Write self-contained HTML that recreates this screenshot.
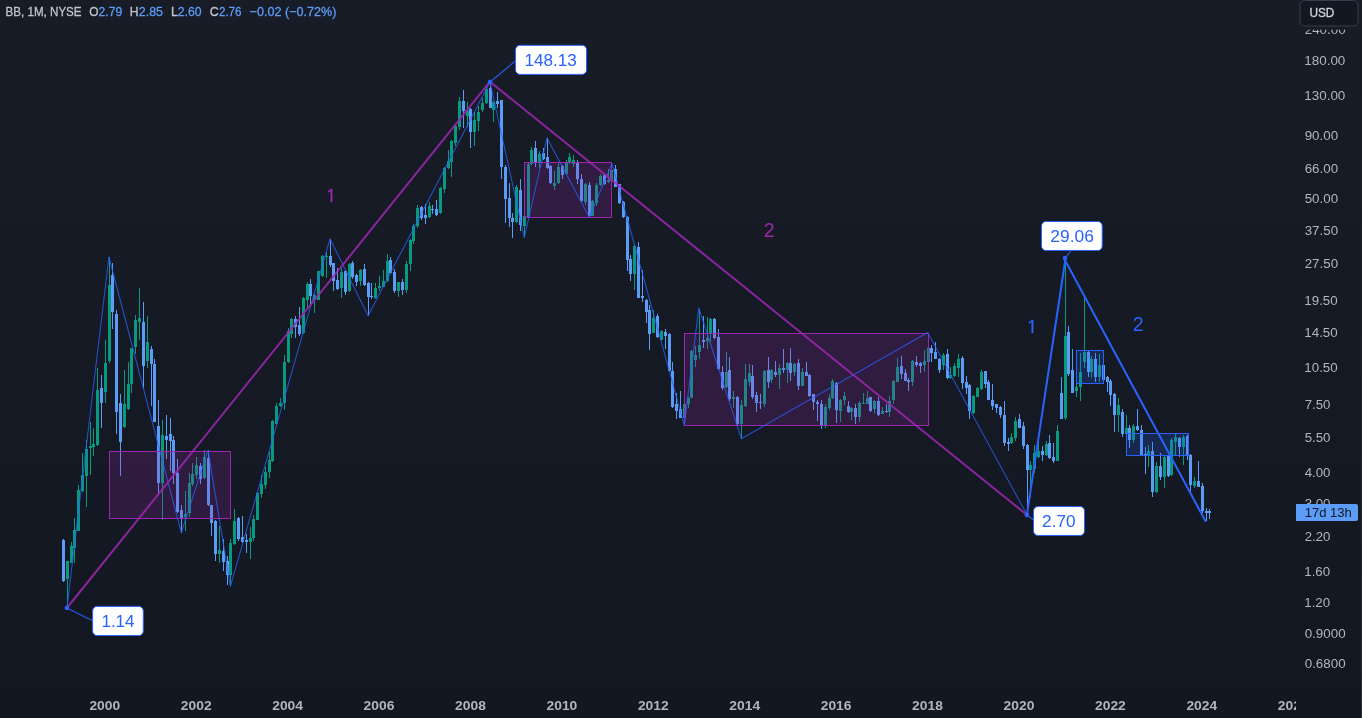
<!DOCTYPE html>
<html lang="en"><head><meta charset="utf-8"><title>BB 1M NYSE chart</title>
<style>
html,body{margin:0;padding:0;background:#131722;}
body{width:1362px;height:718px;overflow:hidden;position:relative;font-family:"Liberation Sans",sans-serif;}
#chart{position:absolute;left:0;top:0;width:1362px;height:718px;display:block}
text{font-family:"Liberation Sans",sans-serif}
.ax{font-size:12px;fill:#b2b5be}
.tx{font-size:12px;font-weight:bold;fill:#b2b5be}
.lg{font-size:13px;fill:#c1c4cd;stroke:#c1c4cd;stroke-width:0.3px}
.lv{font-size:13px;fill:#5b9cf6;stroke:#5b9cf6;stroke-width:0.3px}
.lb{font-size:16.6px;fill:#2962ff}
</style></head><body>
<svg id="chart" width="1362" height="718" viewBox="0 0 1362 718">
<defs><linearGradient id="bg" x1="0" y1="0" x2="0" y2="1"><stop offset="0" stop-color="#181c27"/><stop offset="1" stop-color="#131722"/></linearGradient><linearGradient id="edge" x1="0" y1="0" x2="0" y2="1"><stop offset="0" stop-color="#14171f"/><stop offset="1" stop-color="#2a2e39"/></linearGradient><clipPath id="tclip"><rect x="0" y="690" width="1296" height="28"/></clipPath></defs>
<rect x="0" y="0" width="1362" height="718" fill="url(#bg)"/>
<g shape-rendering="crispEdges">
<rect x="63" y="539" width="1" height="43" fill="#5b9cf6"/>
<rect x="62" y="540" width="3" height="41" fill="#5b9cf6"/>
<rect x="67" y="561" width="1" height="45" fill="#089981"/>
<rect x="66" y="561" width="3" height="18" fill="#089981"/>
<rect x="71" y="542" width="1" height="21" fill="#089981"/>
<rect x="70" y="546" width="3" height="17" fill="#089981"/>
<rect x="74" y="518" width="1" height="45" fill="#089981"/>
<rect x="73" y="530" width="3" height="18" fill="#089981"/>
<rect x="78" y="485" width="1" height="46" fill="#089981"/>
<rect x="77" y="490" width="3" height="41" fill="#089981"/>
<rect x="82" y="453" width="1" height="39" fill="#089981"/>
<rect x="81" y="475" width="3" height="16" fill="#089981"/>
<rect x="86" y="440" width="1" height="67" fill="#089981"/>
<rect x="85" y="449" width="3" height="27" fill="#089981"/>
<rect x="90" y="422" width="1" height="53" fill="#089981"/>
<rect x="89" y="446" width="3" height="2" fill="#089981"/>
<rect x="93" y="428" width="1" height="28" fill="#089981"/>
<rect x="92" y="444" width="3" height="3" fill="#089981"/>
<rect x="97" y="368" width="1" height="78" fill="#089981"/>
<rect x="96" y="390" width="3" height="55" fill="#089981"/>
<rect x="101" y="375" width="1" height="53" fill="#5b9cf6"/>
<rect x="100" y="388" width="3" height="15" fill="#5b9cf6"/>
<rect x="105" y="340" width="1" height="63" fill="#089981"/>
<rect x="104" y="363" width="3" height="29" fill="#089981"/>
<rect x="109" y="257" width="1" height="106" fill="#089981"/>
<rect x="108" y="285" width="3" height="76" fill="#089981"/>
<rect x="112" y="263" width="1" height="66" fill="#5b9cf6"/>
<rect x="111" y="275" width="3" height="37" fill="#5b9cf6"/>
<rect x="116" y="310" width="1" height="124" fill="#5b9cf6"/>
<rect x="115" y="314" width="3" height="98" fill="#5b9cf6"/>
<rect x="120" y="394" width="1" height="82" fill="#5b9cf6"/>
<rect x="119" y="403" width="3" height="39" fill="#5b9cf6"/>
<rect x="124" y="370" width="1" height="58" fill="#089981"/>
<rect x="123" y="404" width="3" height="23" fill="#089981"/>
<rect x="128" y="362" width="1" height="48" fill="#089981"/>
<rect x="127" y="384" width="3" height="25" fill="#089981"/>
<rect x="131" y="348" width="1" height="45" fill="#089981"/>
<rect x="130" y="348" width="3" height="36" fill="#089981"/>
<rect x="135" y="315" width="1" height="39" fill="#089981"/>
<rect x="134" y="320" width="3" height="27" fill="#089981"/>
<rect x="139" y="288" width="1" height="52" fill="#089981"/>
<rect x="138" y="318" width="3" height="4" fill="#089981"/>
<rect x="143" y="302" width="1" height="86" fill="#5b9cf6"/>
<rect x="142" y="322" width="3" height="44" fill="#5b9cf6"/>
<rect x="147" y="316" width="1" height="52" fill="#089981"/>
<rect x="146" y="342" width="3" height="19" fill="#089981"/>
<rect x="151" y="346" width="1" height="60" fill="#5b9cf6"/>
<rect x="150" y="349" width="3" height="15" fill="#5b9cf6"/>
<rect x="154" y="359" width="1" height="63" fill="#5b9cf6"/>
<rect x="153" y="364" width="3" height="58" fill="#5b9cf6"/>
<rect x="158" y="400" width="1" height="93" fill="#5b9cf6"/>
<rect x="157" y="426" width="3" height="57" fill="#5b9cf6"/>
<rect x="162" y="420" width="1" height="100" fill="#089981"/>
<rect x="161" y="435" width="3" height="48" fill="#089981"/>
<rect x="166" y="415" width="1" height="44" fill="#5b9cf6"/>
<rect x="165" y="436" width="3" height="4" fill="#5b9cf6"/>
<rect x="170" y="418" width="1" height="53" fill="#5b9cf6"/>
<rect x="169" y="434" width="3" height="7" fill="#5b9cf6"/>
<rect x="173" y="436" width="1" height="48" fill="#5b9cf6"/>
<rect x="172" y="440" width="3" height="33" fill="#5b9cf6"/>
<rect x="177" y="459" width="1" height="54" fill="#5b9cf6"/>
<rect x="176" y="473" width="3" height="39" fill="#5b9cf6"/>
<rect x="181" y="505" width="1" height="28" fill="#5b9cf6"/>
<rect x="180" y="510" width="3" height="8" fill="#5b9cf6"/>
<rect x="185" y="491" width="1" height="40" fill="#089981"/>
<rect x="184" y="514" width="3" height="3" fill="#089981"/>
<rect x="189" y="473" width="1" height="44" fill="#089981"/>
<rect x="188" y="483" width="3" height="30" fill="#089981"/>
<rect x="192" y="463" width="1" height="23" fill="#089981"/>
<rect x="191" y="474" width="3" height="10" fill="#089981"/>
<rect x="196" y="457" width="1" height="22" fill="#089981"/>
<rect x="195" y="465" width="3" height="10" fill="#089981"/>
<rect x="200" y="463" width="1" height="21" fill="#5b9cf6"/>
<rect x="199" y="466" width="3" height="13" fill="#5b9cf6"/>
<rect x="204" y="450" width="1" height="29" fill="#089981"/>
<rect x="203" y="457" width="3" height="21" fill="#089981"/>
<rect x="208" y="450" width="1" height="56" fill="#5b9cf6"/>
<rect x="207" y="458" width="3" height="47" fill="#5b9cf6"/>
<rect x="211" y="505" width="1" height="31" fill="#5b9cf6"/>
<rect x="210" y="505" width="3" height="18" fill="#5b9cf6"/>
<rect x="215" y="520" width="1" height="41" fill="#5b9cf6"/>
<rect x="214" y="521" width="3" height="33" fill="#5b9cf6"/>
<rect x="219" y="526" width="1" height="37" fill="#089981"/>
<rect x="218" y="550" width="3" height="4" fill="#089981"/>
<rect x="223" y="539" width="1" height="32" fill="#5b9cf6"/>
<rect x="222" y="551" width="3" height="11" fill="#5b9cf6"/>
<rect x="227" y="556" width="1" height="29" fill="#5b9cf6"/>
<rect x="226" y="561" width="3" height="14" fill="#5b9cf6"/>
<rect x="230" y="539" width="1" height="47" fill="#089981"/>
<rect x="229" y="543" width="3" height="32" fill="#089981"/>
<rect x="234" y="509" width="1" height="36" fill="#089981"/>
<rect x="233" y="521" width="3" height="23" fill="#089981"/>
<rect x="238" y="517" width="1" height="24" fill="#5b9cf6"/>
<rect x="237" y="518" width="3" height="21" fill="#5b9cf6"/>
<rect x="242" y="516" width="1" height="27" fill="#5b9cf6"/>
<rect x="241" y="537" width="3" height="5" fill="#5b9cf6"/>
<rect x="246" y="534" width="1" height="19" fill="#5b9cf6"/>
<rect x="245" y="540" width="3" height="2" fill="#5b9cf6"/>
<rect x="250" y="527" width="1" height="32" fill="#089981"/>
<rect x="249" y="538" width="3" height="4" fill="#089981"/>
<rect x="253" y="515" width="1" height="26" fill="#089981"/>
<rect x="252" y="519" width="3" height="19" fill="#089981"/>
<rect x="257" y="492" width="1" height="28" fill="#089981"/>
<rect x="256" y="493" width="3" height="27" fill="#089981"/>
<rect x="261" y="475" width="1" height="23" fill="#089981"/>
<rect x="260" y="484" width="3" height="10" fill="#089981"/>
<rect x="265" y="467" width="1" height="22" fill="#089981"/>
<rect x="264" y="472" width="3" height="13" fill="#089981"/>
<rect x="269" y="452" width="1" height="26" fill="#089981"/>
<rect x="268" y="460" width="3" height="12" fill="#089981"/>
<rect x="272" y="420" width="1" height="42" fill="#089981"/>
<rect x="271" y="421" width="3" height="40" fill="#089981"/>
<rect x="276" y="403" width="1" height="22" fill="#089981"/>
<rect x="275" y="406" width="3" height="18" fill="#089981"/>
<rect x="280" y="398" width="1" height="9" fill="#089981"/>
<rect x="279" y="403" width="3" height="3" fill="#089981"/>
<rect x="284" y="355" width="1" height="55" fill="#089981"/>
<rect x="283" y="362" width="3" height="41" fill="#089981"/>
<rect x="288" y="328" width="1" height="35" fill="#089981"/>
<rect x="287" y="331" width="3" height="31" fill="#089981"/>
<rect x="291" y="318" width="1" height="20" fill="#089981"/>
<rect x="290" y="319" width="3" height="15" fill="#089981"/>
<rect x="295" y="316" width="1" height="22" fill="#5b9cf6"/>
<rect x="294" y="319" width="3" height="8" fill="#5b9cf6"/>
<rect x="299" y="307" width="1" height="29" fill="#5b9cf6"/>
<rect x="298" y="325" width="3" height="9" fill="#5b9cf6"/>
<rect x="303" y="297" width="1" height="37" fill="#089981"/>
<rect x="302" y="298" width="3" height="35" fill="#089981"/>
<rect x="307" y="282" width="1" height="26" fill="#089981"/>
<rect x="306" y="284" width="3" height="16" fill="#089981"/>
<rect x="310" y="279" width="1" height="25" fill="#5b9cf6"/>
<rect x="309" y="284" width="3" height="12" fill="#5b9cf6"/>
<rect x="314" y="294" width="1" height="19" fill="#089981"/>
<rect x="313" y="295" width="3" height="5" fill="#089981"/>
<rect x="318" y="271" width="1" height="29" fill="#089981"/>
<rect x="317" y="271" width="3" height="29" fill="#089981"/>
<rect x="322" y="255" width="1" height="22" fill="#089981"/>
<rect x="321" y="256" width="3" height="20" fill="#089981"/>
<rect x="326" y="252" width="1" height="26" fill="#089981"/>
<rect x="325" y="256" width="3" height="1" fill="#089981"/>
<rect x="330" y="239" width="1" height="28" fill="#5b9cf6"/>
<rect x="329" y="256" width="3" height="9" fill="#5b9cf6"/>
<rect x="333" y="263" width="1" height="28" fill="#5b9cf6"/>
<rect x="332" y="263" width="3" height="18" fill="#5b9cf6"/>
<rect x="337" y="268" width="1" height="22" fill="#5b9cf6"/>
<rect x="336" y="280" width="3" height="9" fill="#5b9cf6"/>
<rect x="341" y="268" width="1" height="30" fill="#089981"/>
<rect x="340" y="272" width="3" height="16" fill="#089981"/>
<rect x="345" y="270" width="1" height="25" fill="#5b9cf6"/>
<rect x="344" y="271" width="3" height="21" fill="#5b9cf6"/>
<rect x="349" y="263" width="1" height="29" fill="#089981"/>
<rect x="348" y="264" width="3" height="27" fill="#089981"/>
<rect x="352" y="261" width="1" height="18" fill="#5b9cf6"/>
<rect x="351" y="263" width="3" height="14" fill="#5b9cf6"/>
<rect x="356" y="274" width="1" height="12" fill="#5b9cf6"/>
<rect x="355" y="275" width="3" height="7" fill="#5b9cf6"/>
<rect x="360" y="269" width="1" height="17" fill="#089981"/>
<rect x="359" y="270" width="3" height="11" fill="#089981"/>
<rect x="364" y="264" width="1" height="22" fill="#5b9cf6"/>
<rect x="363" y="269" width="3" height="16" fill="#5b9cf6"/>
<rect x="368" y="282" width="1" height="34" fill="#5b9cf6"/>
<rect x="367" y="283" width="3" height="14" fill="#5b9cf6"/>
<rect x="371" y="283" width="1" height="16" fill="#5b9cf6"/>
<rect x="370" y="296" width="3" height="1" fill="#5b9cf6"/>
<rect x="375" y="283" width="1" height="16" fill="#089981"/>
<rect x="374" y="288" width="3" height="10" fill="#089981"/>
<rect x="379" y="276" width="1" height="15" fill="#089981"/>
<rect x="378" y="286" width="3" height="2" fill="#089981"/>
<rect x="383" y="270" width="1" height="17" fill="#089981"/>
<rect x="382" y="281" width="3" height="6" fill="#089981"/>
<rect x="387" y="254" width="1" height="28" fill="#089981"/>
<rect x="386" y="261" width="3" height="20" fill="#089981"/>
<rect x="390" y="257" width="1" height="17" fill="#5b9cf6"/>
<rect x="389" y="260" width="3" height="13" fill="#5b9cf6"/>
<rect x="394" y="269" width="1" height="24" fill="#5b9cf6"/>
<rect x="393" y="272" width="3" height="19" fill="#5b9cf6"/>
<rect x="398" y="282" width="1" height="15" fill="#089981"/>
<rect x="397" y="282" width="3" height="9" fill="#089981"/>
<rect x="402" y="279" width="1" height="16" fill="#5b9cf6"/>
<rect x="401" y="282" width="3" height="8" fill="#5b9cf6"/>
<rect x="406" y="261" width="1" height="32" fill="#089981"/>
<rect x="405" y="264" width="3" height="26" fill="#089981"/>
<rect x="410" y="239" width="1" height="32" fill="#089981"/>
<rect x="409" y="240" width="3" height="24" fill="#089981"/>
<rect x="413" y="224" width="1" height="20" fill="#089981"/>
<rect x="412" y="226" width="3" height="15" fill="#089981"/>
<rect x="417" y="205" width="1" height="23" fill="#089981"/>
<rect x="416" y="208" width="3" height="18" fill="#089981"/>
<rect x="421" y="206" width="1" height="14" fill="#5b9cf6"/>
<rect x="420" y="207" width="3" height="11" fill="#5b9cf6"/>
<rect x="425" y="204" width="1" height="20" fill="#5b9cf6"/>
<rect x="424" y="215" width="3" height="3" fill="#5b9cf6"/>
<rect x="429" y="202" width="1" height="16" fill="#089981"/>
<rect x="428" y="206" width="3" height="11" fill="#089981"/>
<rect x="432" y="205" width="1" height="9" fill="#5b9cf6"/>
<rect x="431" y="209" width="3" height="1" fill="#5b9cf6"/>
<rect x="436" y="200" width="1" height="16" fill="#5b9cf6"/>
<rect x="435" y="209" width="3" height="6" fill="#5b9cf6"/>
<rect x="440" y="187" width="1" height="27" fill="#089981"/>
<rect x="439" y="188" width="3" height="25" fill="#089981"/>
<rect x="444" y="167" width="1" height="26" fill="#089981"/>
<rect x="443" y="168" width="3" height="21" fill="#089981"/>
<rect x="448" y="150" width="1" height="19" fill="#089981"/>
<rect x="447" y="161" width="3" height="7" fill="#089981"/>
<rect x="451" y="140" width="1" height="37" fill="#089981"/>
<rect x="450" y="141" width="3" height="21" fill="#089981"/>
<rect x="455" y="125" width="1" height="21" fill="#089981"/>
<rect x="454" y="126" width="3" height="17" fill="#089981"/>
<rect x="459" y="97" width="1" height="33" fill="#089981"/>
<rect x="458" y="101" width="3" height="26" fill="#089981"/>
<rect x="463" y="90" width="1" height="38" fill="#5b9cf6"/>
<rect x="462" y="101" width="3" height="10" fill="#5b9cf6"/>
<rect x="467" y="102" width="1" height="25" fill="#089981"/>
<rect x="466" y="111" width="3" height="5" fill="#089981"/>
<rect x="470" y="108" width="1" height="40" fill="#5b9cf6"/>
<rect x="469" y="109" width="3" height="23" fill="#5b9cf6"/>
<rect x="474" y="112" width="1" height="34" fill="#089981"/>
<rect x="473" y="120" width="3" height="12" fill="#089981"/>
<rect x="478" y="106" width="1" height="25" fill="#089981"/>
<rect x="477" y="112" width="3" height="9" fill="#089981"/>
<rect x="482" y="98" width="1" height="14" fill="#089981"/>
<rect x="481" y="103" width="3" height="7" fill="#089981"/>
<rect x="486" y="86" width="1" height="18" fill="#089981"/>
<rect x="485" y="89" width="3" height="14" fill="#089981"/>
<rect x="490" y="84" width="1" height="24" fill="#5b9cf6"/>
<rect x="489" y="88" width="3" height="20" fill="#5b9cf6"/>
<rect x="493" y="101" width="1" height="21" fill="#089981"/>
<rect x="492" y="102" width="3" height="8" fill="#089981"/>
<rect x="497" y="92" width="1" height="16" fill="#5b9cf6"/>
<rect x="496" y="101" width="3" height="3" fill="#5b9cf6"/>
<rect x="501" y="100" width="1" height="79" fill="#5b9cf6"/>
<rect x="500" y="100" width="3" height="67" fill="#5b9cf6"/>
<rect x="505" y="165" width="1" height="58" fill="#5b9cf6"/>
<rect x="504" y="167" width="3" height="32" fill="#5b9cf6"/>
<rect x="509" y="183" width="1" height="44" fill="#5b9cf6"/>
<rect x="508" y="198" width="3" height="20" fill="#5b9cf6"/>
<rect x="512" y="213" width="1" height="25" fill="#5b9cf6"/>
<rect x="511" y="218" width="3" height="4" fill="#5b9cf6"/>
<rect x="516" y="185" width="1" height="38" fill="#089981"/>
<rect x="515" y="187" width="3" height="35" fill="#089981"/>
<rect x="520" y="179" width="1" height="52" fill="#5b9cf6"/>
<rect x="519" y="190" width="3" height="35" fill="#5b9cf6"/>
<rect x="524" y="216" width="1" height="22" fill="#089981"/>
<rect x="523" y="216" width="3" height="10" fill="#089981"/>
<rect x="528" y="163" width="1" height="55" fill="#089981"/>
<rect x="527" y="164" width="3" height="53" fill="#089981"/>
<rect x="531" y="147" width="1" height="18" fill="#089981"/>
<rect x="530" y="150" width="3" height="14" fill="#089981"/>
<rect x="535" y="141" width="1" height="26" fill="#5b9cf6"/>
<rect x="534" y="148" width="3" height="14" fill="#5b9cf6"/>
<rect x="539" y="151" width="1" height="17" fill="#089981"/>
<rect x="538" y="154" width="3" height="8" fill="#089981"/>
<rect x="543" y="148" width="1" height="12" fill="#5b9cf6"/>
<rect x="542" y="153" width="3" height="6" fill="#5b9cf6"/>
<rect x="547" y="138" width="1" height="31" fill="#5b9cf6"/>
<rect x="546" y="157" width="3" height="11" fill="#5b9cf6"/>
<rect x="550" y="165" width="1" height="19" fill="#5b9cf6"/>
<rect x="549" y="166" width="3" height="17" fill="#5b9cf6"/>
<rect x="554" y="171" width="1" height="19" fill="#089981"/>
<rect x="553" y="183" width="3" height="3" fill="#089981"/>
<rect x="558" y="162" width="1" height="22" fill="#089981"/>
<rect x="557" y="167" width="3" height="16" fill="#089981"/>
<rect x="562" y="165" width="1" height="14" fill="#5b9cf6"/>
<rect x="561" y="166" width="3" height="9" fill="#5b9cf6"/>
<rect x="566" y="160" width="1" height="14" fill="#089981"/>
<rect x="565" y="163" width="3" height="11" fill="#089981"/>
<rect x="569" y="153" width="1" height="11" fill="#089981"/>
<rect x="568" y="157" width="3" height="5" fill="#089981"/>
<rect x="573" y="155" width="1" height="12" fill="#089981"/>
<rect x="572" y="160" width="3" height="4" fill="#089981"/>
<rect x="577" y="160" width="1" height="24" fill="#5b9cf6"/>
<rect x="576" y="163" width="3" height="16" fill="#5b9cf6"/>
<rect x="581" y="174" width="1" height="28" fill="#5b9cf6"/>
<rect x="580" y="179" width="3" height="22" fill="#5b9cf6"/>
<rect x="585" y="183" width="1" height="22" fill="#089981"/>
<rect x="584" y="184" width="3" height="18" fill="#089981"/>
<rect x="589" y="182" width="1" height="35" fill="#5b9cf6"/>
<rect x="588" y="185" width="3" height="31" fill="#5b9cf6"/>
<rect x="592" y="200" width="1" height="16" fill="#089981"/>
<rect x="591" y="201" width="3" height="15" fill="#089981"/>
<rect x="596" y="183" width="1" height="23" fill="#089981"/>
<rect x="595" y="185" width="3" height="18" fill="#089981"/>
<rect x="600" y="174" width="1" height="12" fill="#089981"/>
<rect x="599" y="176" width="3" height="9" fill="#089981"/>
<rect x="604" y="174" width="1" height="11" fill="#5b9cf6"/>
<rect x="603" y="175" width="3" height="9" fill="#5b9cf6"/>
<rect x="608" y="169" width="1" height="14" fill="#089981"/>
<rect x="607" y="180" width="3" height="2" fill="#089981"/>
<rect x="611" y="164" width="1" height="18" fill="#089981"/>
<rect x="610" y="170" width="3" height="11" fill="#089981"/>
<rect x="615" y="165" width="1" height="22" fill="#5b9cf6"/>
<rect x="614" y="169" width="3" height="18" fill="#5b9cf6"/>
<rect x="619" y="184" width="1" height="20" fill="#5b9cf6"/>
<rect x="618" y="184" width="3" height="19" fill="#5b9cf6"/>
<rect x="623" y="201" width="1" height="17" fill="#5b9cf6"/>
<rect x="622" y="202" width="3" height="15" fill="#5b9cf6"/>
<rect x="627" y="216" width="1" height="55" fill="#5b9cf6"/>
<rect x="626" y="217" width="3" height="43" fill="#5b9cf6"/>
<rect x="630" y="255" width="1" height="26" fill="#5b9cf6"/>
<rect x="629" y="259" width="3" height="15" fill="#5b9cf6"/>
<rect x="634" y="245" width="1" height="45" fill="#089981"/>
<rect x="633" y="246" width="3" height="28" fill="#089981"/>
<rect x="638" y="242" width="1" height="56" fill="#5b9cf6"/>
<rect x="637" y="247" width="3" height="51" fill="#5b9cf6"/>
<rect x="642" y="270" width="1" height="32" fill="#5b9cf6"/>
<rect x="641" y="296" width="3" height="2" fill="#5b9cf6"/>
<rect x="646" y="299" width="1" height="24" fill="#5b9cf6"/>
<rect x="645" y="300" width="3" height="12" fill="#5b9cf6"/>
<rect x="649" y="305" width="1" height="45" fill="#5b9cf6"/>
<rect x="648" y="310" width="3" height="24" fill="#5b9cf6"/>
<rect x="653" y="310" width="1" height="23" fill="#089981"/>
<rect x="652" y="318" width="3" height="15" fill="#089981"/>
<rect x="657" y="314" width="1" height="24" fill="#5b9cf6"/>
<rect x="656" y="316" width="3" height="21" fill="#5b9cf6"/>
<rect x="661" y="330" width="1" height="10" fill="#089981"/>
<rect x="660" y="331" width="3" height="9" fill="#089981"/>
<rect x="665" y="329" width="1" height="20" fill="#5b9cf6"/>
<rect x="664" y="332" width="3" height="4" fill="#5b9cf6"/>
<rect x="669" y="333" width="1" height="38" fill="#5b9cf6"/>
<rect x="668" y="334" width="3" height="37" fill="#5b9cf6"/>
<rect x="672" y="362" width="1" height="46" fill="#5b9cf6"/>
<rect x="671" y="371" width="3" height="36" fill="#5b9cf6"/>
<rect x="676" y="393" width="1" height="26" fill="#5b9cf6"/>
<rect x="675" y="404" width="3" height="7" fill="#5b9cf6"/>
<rect x="680" y="391" width="1" height="27" fill="#5b9cf6"/>
<rect x="679" y="409" width="3" height="9" fill="#5b9cf6"/>
<rect x="684" y="403" width="1" height="15" fill="#089981"/>
<rect x="683" y="404" width="3" height="14" fill="#089981"/>
<rect x="688" y="397" width="1" height="11" fill="#089981"/>
<rect x="687" y="398" width="3" height="6" fill="#089981"/>
<rect x="691" y="350" width="1" height="48" fill="#089981"/>
<rect x="690" y="351" width="3" height="47" fill="#089981"/>
<rect x="695" y="346" width="1" height="21" fill="#089981"/>
<rect x="694" y="355" width="3" height="5" fill="#089981"/>
<rect x="699" y="309" width="1" height="50" fill="#089981"/>
<rect x="698" y="345" width="3" height="7" fill="#089981"/>
<rect x="703" y="316" width="1" height="32" fill="#5b9cf6"/>
<rect x="702" y="340" width="3" height="2" fill="#5b9cf6"/>
<rect x="707" y="317" width="1" height="32" fill="#089981"/>
<rect x="706" y="338" width="3" height="3" fill="#089981"/>
<rect x="710" y="318" width="1" height="24" fill="#089981"/>
<rect x="709" y="319" width="3" height="14" fill="#089981"/>
<rect x="714" y="318" width="1" height="21" fill="#5b9cf6"/>
<rect x="713" y="319" width="3" height="19" fill="#5b9cf6"/>
<rect x="718" y="329" width="1" height="41" fill="#5b9cf6"/>
<rect x="717" y="337" width="3" height="32" fill="#5b9cf6"/>
<rect x="722" y="366" width="1" height="24" fill="#5b9cf6"/>
<rect x="721" y="372" width="3" height="16" fill="#5b9cf6"/>
<rect x="726" y="352" width="1" height="36" fill="#089981"/>
<rect x="725" y="372" width="3" height="15" fill="#089981"/>
<rect x="729" y="357" width="1" height="44" fill="#5b9cf6"/>
<rect x="728" y="370" width="3" height="29" fill="#5b9cf6"/>
<rect x="733" y="391" width="1" height="17" fill="#089981"/>
<rect x="732" y="397" width="3" height="2" fill="#089981"/>
<rect x="737" y="396" width="1" height="29" fill="#5b9cf6"/>
<rect x="736" y="397" width="3" height="27" fill="#5b9cf6"/>
<rect x="741" y="400" width="1" height="39" fill="#089981"/>
<rect x="740" y="405" width="3" height="19" fill="#089981"/>
<rect x="745" y="364" width="1" height="43" fill="#089981"/>
<rect x="744" y="379" width="3" height="27" fill="#089981"/>
<rect x="749" y="364" width="1" height="22" fill="#089981"/>
<rect x="748" y="373" width="3" height="9" fill="#089981"/>
<rect x="752" y="365" width="1" height="34" fill="#5b9cf6"/>
<rect x="751" y="376" width="3" height="21" fill="#5b9cf6"/>
<rect x="756" y="392" width="1" height="20" fill="#5b9cf6"/>
<rect x="755" y="395" width="3" height="8" fill="#5b9cf6"/>
<rect x="760" y="394" width="1" height="15" fill="#5b9cf6"/>
<rect x="759" y="402" width="3" height="1" fill="#5b9cf6"/>
<rect x="764" y="370" width="1" height="37" fill="#089981"/>
<rect x="763" y="371" width="3" height="33" fill="#089981"/>
<rect x="768" y="357" width="1" height="31" fill="#5b9cf6"/>
<rect x="767" y="370" width="3" height="12" fill="#5b9cf6"/>
<rect x="771" y="369" width="1" height="14" fill="#089981"/>
<rect x="770" y="370" width="3" height="10" fill="#089981"/>
<rect x="775" y="361" width="1" height="16" fill="#5b9cf6"/>
<rect x="774" y="372" width="3" height="3" fill="#5b9cf6"/>
<rect x="779" y="364" width="1" height="25" fill="#089981"/>
<rect x="778" y="368" width="3" height="7" fill="#089981"/>
<rect x="783" y="349" width="1" height="24" fill="#5b9cf6"/>
<rect x="782" y="368" width="3" height="2" fill="#5b9cf6"/>
<rect x="787" y="362" width="1" height="21" fill="#089981"/>
<rect x="786" y="363" width="3" height="7" fill="#089981"/>
<rect x="790" y="348" width="1" height="33" fill="#5b9cf6"/>
<rect x="789" y="363" width="3" height="10" fill="#5b9cf6"/>
<rect x="794" y="363" width="1" height="13" fill="#089981"/>
<rect x="793" y="364" width="3" height="8" fill="#089981"/>
<rect x="798" y="359" width="1" height="31" fill="#5b9cf6"/>
<rect x="797" y="363" width="3" height="23" fill="#5b9cf6"/>
<rect x="802" y="368" width="1" height="18" fill="#089981"/>
<rect x="801" y="372" width="3" height="14" fill="#089981"/>
<rect x="806" y="362" width="1" height="14" fill="#5b9cf6"/>
<rect x="805" y="372" width="3" height="4" fill="#5b9cf6"/>
<rect x="809" y="374" width="1" height="23" fill="#5b9cf6"/>
<rect x="808" y="375" width="3" height="21" fill="#5b9cf6"/>
<rect x="813" y="394" width="1" height="16" fill="#5b9cf6"/>
<rect x="812" y="394" width="3" height="8" fill="#5b9cf6"/>
<rect x="817" y="400" width="1" height="21" fill="#5b9cf6"/>
<rect x="816" y="402" width="3" height="2" fill="#5b9cf6"/>
<rect x="821" y="400" width="1" height="29" fill="#5b9cf6"/>
<rect x="820" y="404" width="3" height="21" fill="#5b9cf6"/>
<rect x="825" y="404" width="1" height="24" fill="#089981"/>
<rect x="824" y="407" width="3" height="18" fill="#089981"/>
<rect x="829" y="394" width="1" height="16" fill="#089981"/>
<rect x="828" y="398" width="3" height="10" fill="#089981"/>
<rect x="832" y="379" width="1" height="20" fill="#089981"/>
<rect x="831" y="381" width="3" height="17" fill="#089981"/>
<rect x="836" y="382" width="1" height="41" fill="#5b9cf6"/>
<rect x="835" y="383" width="3" height="27" fill="#5b9cf6"/>
<rect x="840" y="399" width="1" height="23" fill="#089981"/>
<rect x="839" y="400" width="3" height="11" fill="#089981"/>
<rect x="844" y="392" width="1" height="13" fill="#089981"/>
<rect x="843" y="396" width="3" height="4" fill="#089981"/>
<rect x="848" y="401" width="1" height="12" fill="#5b9cf6"/>
<rect x="847" y="406" width="3" height="6" fill="#5b9cf6"/>
<rect x="851" y="407" width="1" height="13" fill="#089981"/>
<rect x="850" y="408" width="3" height="4" fill="#089981"/>
<rect x="855" y="404" width="1" height="20" fill="#5b9cf6"/>
<rect x="854" y="408" width="3" height="9" fill="#5b9cf6"/>
<rect x="859" y="401" width="1" height="21" fill="#089981"/>
<rect x="858" y="403" width="3" height="14" fill="#089981"/>
<rect x="863" y="393" width="1" height="11" fill="#089981"/>
<rect x="862" y="403" width="3" height="1" fill="#089981"/>
<rect x="867" y="391" width="1" height="13" fill="#089981"/>
<rect x="866" y="398" width="3" height="6" fill="#089981"/>
<rect x="870" y="397" width="1" height="15" fill="#5b9cf6"/>
<rect x="869" y="397" width="3" height="14" fill="#5b9cf6"/>
<rect x="874" y="400" width="1" height="13" fill="#089981"/>
<rect x="873" y="401" width="3" height="8" fill="#089981"/>
<rect x="878" y="397" width="1" height="19" fill="#5b9cf6"/>
<rect x="877" y="401" width="3" height="14" fill="#5b9cf6"/>
<rect x="882" y="407" width="1" height="7" fill="#089981"/>
<rect x="881" y="411" width="3" height="3" fill="#089981"/>
<rect x="886" y="404" width="1" height="9" fill="#5b9cf6"/>
<rect x="885" y="411" width="3" height="1" fill="#5b9cf6"/>
<rect x="889" y="396" width="1" height="21" fill="#089981"/>
<rect x="888" y="401" width="3" height="11" fill="#089981"/>
<rect x="893" y="380" width="1" height="24" fill="#089981"/>
<rect x="892" y="381" width="3" height="19" fill="#089981"/>
<rect x="897" y="358" width="1" height="24" fill="#089981"/>
<rect x="896" y="367" width="3" height="15" fill="#089981"/>
<rect x="901" y="356" width="1" height="23" fill="#5b9cf6"/>
<rect x="900" y="366" width="3" height="8" fill="#5b9cf6"/>
<rect x="905" y="369" width="1" height="12" fill="#5b9cf6"/>
<rect x="904" y="373" width="3" height="8" fill="#5b9cf6"/>
<rect x="908" y="378" width="1" height="13" fill="#5b9cf6"/>
<rect x="907" y="380" width="3" height="2" fill="#5b9cf6"/>
<rect x="912" y="360" width="1" height="26" fill="#089981"/>
<rect x="911" y="361" width="3" height="21" fill="#089981"/>
<rect x="916" y="356" width="1" height="11" fill="#5b9cf6"/>
<rect x="915" y="362" width="3" height="3" fill="#5b9cf6"/>
<rect x="920" y="362" width="1" height="11" fill="#5b9cf6"/>
<rect x="919" y="363" width="3" height="3" fill="#5b9cf6"/>
<rect x="924" y="350" width="1" height="22" fill="#089981"/>
<rect x="923" y="361" width="3" height="4" fill="#089981"/>
<rect x="928" y="347" width="1" height="15" fill="#089981"/>
<rect x="927" y="348" width="3" height="14" fill="#089981"/>
<rect x="931" y="345" width="1" height="17" fill="#5b9cf6"/>
<rect x="930" y="348" width="3" height="5" fill="#5b9cf6"/>
<rect x="935" y="342" width="1" height="17" fill="#5b9cf6"/>
<rect x="934" y="352" width="3" height="7" fill="#5b9cf6"/>
<rect x="939" y="358" width="1" height="15" fill="#5b9cf6"/>
<rect x="938" y="359" width="3" height="11" fill="#5b9cf6"/>
<rect x="943" y="353" width="1" height="17" fill="#089981"/>
<rect x="942" y="355" width="3" height="10" fill="#089981"/>
<rect x="947" y="349" width="1" height="30" fill="#5b9cf6"/>
<rect x="946" y="354" width="3" height="24" fill="#5b9cf6"/>
<rect x="950" y="367" width="1" height="12" fill="#089981"/>
<rect x="949" y="375" width="3" height="3" fill="#089981"/>
<rect x="954" y="363" width="1" height="14" fill="#089981"/>
<rect x="953" y="366" width="3" height="10" fill="#089981"/>
<rect x="958" y="354" width="1" height="23" fill="#089981"/>
<rect x="957" y="359" width="3" height="9" fill="#089981"/>
<rect x="962" y="356" width="1" height="33" fill="#5b9cf6"/>
<rect x="961" y="358" width="3" height="25" fill="#5b9cf6"/>
<rect x="966" y="376" width="1" height="18" fill="#5b9cf6"/>
<rect x="965" y="382" width="3" height="6" fill="#5b9cf6"/>
<rect x="969" y="384" width="1" height="35" fill="#5b9cf6"/>
<rect x="968" y="385" width="3" height="26" fill="#5b9cf6"/>
<rect x="973" y="395" width="1" height="19" fill="#089981"/>
<rect x="972" y="396" width="3" height="17" fill="#089981"/>
<rect x="977" y="387" width="1" height="10" fill="#089981"/>
<rect x="976" y="388" width="3" height="9" fill="#089981"/>
<rect x="981" y="370" width="1" height="20" fill="#089981"/>
<rect x="980" y="372" width="3" height="17" fill="#089981"/>
<rect x="985" y="371" width="1" height="17" fill="#5b9cf6"/>
<rect x="984" y="371" width="3" height="13" fill="#5b9cf6"/>
<rect x="988" y="380" width="1" height="20" fill="#5b9cf6"/>
<rect x="987" y="382" width="3" height="18" fill="#5b9cf6"/>
<rect x="992" y="384" width="1" height="26" fill="#5b9cf6"/>
<rect x="991" y="400" width="3" height="6" fill="#5b9cf6"/>
<rect x="996" y="404" width="1" height="9" fill="#5b9cf6"/>
<rect x="995" y="404" width="3" height="4" fill="#5b9cf6"/>
<rect x="1000" y="406" width="1" height="12" fill="#5b9cf6"/>
<rect x="999" y="407" width="3" height="8" fill="#5b9cf6"/>
<rect x="1004" y="401" width="1" height="45" fill="#5b9cf6"/>
<rect x="1003" y="415" width="3" height="28" fill="#5b9cf6"/>
<rect x="1008" y="438" width="1" height="13" fill="#5b9cf6"/>
<rect x="1007" y="442" width="3" height="2" fill="#5b9cf6"/>
<rect x="1011" y="433" width="1" height="11" fill="#089981"/>
<rect x="1010" y="437" width="3" height="6" fill="#089981"/>
<rect x="1015" y="417" width="1" height="24" fill="#089981"/>
<rect x="1014" y="421" width="3" height="17" fill="#089981"/>
<rect x="1019" y="414" width="1" height="14" fill="#5b9cf6"/>
<rect x="1018" y="419" width="3" height="9" fill="#5b9cf6"/>
<rect x="1023" y="422" width="1" height="27" fill="#5b9cf6"/>
<rect x="1022" y="426" width="3" height="20" fill="#5b9cf6"/>
<rect x="1027" y="444" width="1" height="68" fill="#5b9cf6"/>
<rect x="1026" y="445" width="3" height="25" fill="#5b9cf6"/>
<rect x="1030" y="461" width="1" height="36" fill="#089981"/>
<rect x="1029" y="465" width="3" height="5" fill="#089981"/>
<rect x="1034" y="445" width="1" height="28" fill="#089981"/>
<rect x="1033" y="453" width="3" height="16" fill="#089981"/>
<rect x="1038" y="440" width="1" height="18" fill="#089981"/>
<rect x="1037" y="451" width="3" height="6" fill="#089981"/>
<rect x="1042" y="446" width="1" height="15" fill="#5b9cf6"/>
<rect x="1041" y="451" width="3" height="4" fill="#5b9cf6"/>
<rect x="1046" y="441" width="1" height="15" fill="#089981"/>
<rect x="1045" y="444" width="3" height="11" fill="#089981"/>
<rect x="1049" y="435" width="1" height="24" fill="#5b9cf6"/>
<rect x="1048" y="443" width="3" height="15" fill="#5b9cf6"/>
<rect x="1053" y="443" width="1" height="20" fill="#5b9cf6"/>
<rect x="1052" y="457" width="3" height="4" fill="#5b9cf6"/>
<rect x="1057" y="425" width="1" height="36" fill="#089981"/>
<rect x="1056" y="431" width="3" height="30" fill="#089981"/>
<rect x="1061" y="377" width="1" height="42" fill="#5b9cf6"/>
<rect x="1060" y="393" width="3" height="26" fill="#5b9cf6"/>
<rect x="1065" y="258" width="1" height="162" fill="#089981"/>
<rect x="1064" y="336" width="3" height="82" fill="#089981"/>
<rect x="1068" y="326" width="1" height="50" fill="#5b9cf6"/>
<rect x="1067" y="332" width="3" height="42" fill="#5b9cf6"/>
<rect x="1072" y="349" width="1" height="44" fill="#5b9cf6"/>
<rect x="1071" y="370" width="3" height="23" fill="#5b9cf6"/>
<rect x="1076" y="382" width="1" height="15" fill="#089981"/>
<rect x="1075" y="387" width="3" height="4" fill="#089981"/>
<rect x="1080" y="353" width="1" height="48" fill="#089981"/>
<rect x="1079" y="372" width="3" height="15" fill="#089981"/>
<rect x="1084" y="297" width="1" height="71" fill="#089981"/>
<rect x="1083" y="352" width="3" height="10" fill="#089981"/>
<rect x="1088" y="351" width="1" height="26" fill="#5b9cf6"/>
<rect x="1087" y="352" width="3" height="20" fill="#5b9cf6"/>
<rect x="1091" y="356" width="1" height="22" fill="#089981"/>
<rect x="1090" y="359" width="3" height="13" fill="#089981"/>
<rect x="1095" y="353" width="1" height="29" fill="#5b9cf6"/>
<rect x="1094" y="359" width="3" height="18" fill="#5b9cf6"/>
<rect x="1099" y="354" width="1" height="28" fill="#089981"/>
<rect x="1098" y="365" width="3" height="12" fill="#089981"/>
<rect x="1103" y="364" width="1" height="16" fill="#5b9cf6"/>
<rect x="1102" y="365" width="3" height="15" fill="#5b9cf6"/>
<rect x="1107" y="376" width="1" height="16" fill="#5b9cf6"/>
<rect x="1106" y="377" width="3" height="5" fill="#5b9cf6"/>
<rect x="1110" y="379" width="1" height="27" fill="#5b9cf6"/>
<rect x="1109" y="381" width="3" height="14" fill="#5b9cf6"/>
<rect x="1114" y="393" width="1" height="39" fill="#5b9cf6"/>
<rect x="1113" y="394" width="3" height="21" fill="#5b9cf6"/>
<rect x="1118" y="398" width="1" height="34" fill="#089981"/>
<rect x="1117" y="405" width="3" height="10" fill="#089981"/>
<rect x="1122" y="409" width="1" height="28" fill="#5b9cf6"/>
<rect x="1121" y="412" width="3" height="22" fill="#5b9cf6"/>
<rect x="1126" y="415" width="1" height="20" fill="#089981"/>
<rect x="1125" y="428" width="3" height="6" fill="#089981"/>
<rect x="1129" y="425" width="1" height="23" fill="#5b9cf6"/>
<rect x="1128" y="428" width="3" height="12" fill="#5b9cf6"/>
<rect x="1133" y="424" width="1" height="19" fill="#089981"/>
<rect x="1132" y="426" width="3" height="14" fill="#089981"/>
<rect x="1137" y="409" width="1" height="22" fill="#5b9cf6"/>
<rect x="1136" y="426" width="3" height="4" fill="#5b9cf6"/>
<rect x="1141" y="425" width="1" height="31" fill="#5b9cf6"/>
<rect x="1140" y="430" width="3" height="25" fill="#5b9cf6"/>
<rect x="1145" y="447" width="1" height="27" fill="#5b9cf6"/>
<rect x="1144" y="454" width="3" height="2" fill="#5b9cf6"/>
<rect x="1148" y="445" width="1" height="22" fill="#089981"/>
<rect x="1147" y="451" width="3" height="4" fill="#089981"/>
<rect x="1152" y="442" width="1" height="55" fill="#5b9cf6"/>
<rect x="1151" y="451" width="3" height="41" fill="#5b9cf6"/>
<rect x="1156" y="462" width="1" height="31" fill="#089981"/>
<rect x="1155" y="466" width="3" height="26" fill="#089981"/>
<rect x="1160" y="453" width="1" height="27" fill="#5b9cf6"/>
<rect x="1159" y="466" width="3" height="11" fill="#5b9cf6"/>
<rect x="1164" y="456" width="1" height="32" fill="#089981"/>
<rect x="1163" y="457" width="3" height="20" fill="#089981"/>
<rect x="1168" y="455" width="1" height="22" fill="#5b9cf6"/>
<rect x="1167" y="456" width="3" height="20" fill="#5b9cf6"/>
<rect x="1171" y="438" width="1" height="38" fill="#089981"/>
<rect x="1170" y="440" width="3" height="35" fill="#089981"/>
<rect x="1175" y="434" width="1" height="21" fill="#089981"/>
<rect x="1174" y="437" width="3" height="5" fill="#089981"/>
<rect x="1179" y="437" width="1" height="20" fill="#5b9cf6"/>
<rect x="1178" y="438" width="3" height="9" fill="#5b9cf6"/>
<rect x="1183" y="435" width="1" height="30" fill="#089981"/>
<rect x="1182" y="437" width="3" height="10" fill="#089981"/>
<rect x="1187" y="435" width="1" height="25" fill="#5b9cf6"/>
<rect x="1186" y="436" width="3" height="20" fill="#5b9cf6"/>
<rect x="1190" y="454" width="1" height="38" fill="#5b9cf6"/>
<rect x="1189" y="455" width="3" height="30" fill="#5b9cf6"/>
<rect x="1194" y="477" width="1" height="11" fill="#089981"/>
<rect x="1193" y="481" width="3" height="5" fill="#089981"/>
<rect x="1198" y="461" width="1" height="26" fill="#5b9cf6"/>
<rect x="1197" y="481" width="3" height="6" fill="#5b9cf6"/>
<rect x="1202" y="483" width="1" height="30" fill="#5b9cf6"/>
<rect x="1201" y="486" width="3" height="25" fill="#5b9cf6"/>
<rect x="1206" y="508" width="1" height="13" fill="#5b9cf6"/>
<rect x="1205" y="511" width="3" height="2" fill="#5b9cf6"/>
<rect x="1209" y="509" width="1" height="10" fill="#5b9cf6"/>
<rect x="1208" y="511" width="3" height="2" fill="#5b9cf6"/>
</g>
<rect x="109.5" y="451.5" width="121.0" height="67.0" fill="rgba(156,39,176,0.2)" stroke="#9c27b0" stroke-width="1"/>
<rect x="524.5" y="162.5" width="87.0" height="55.0" fill="rgba(156,39,176,0.2)" stroke="#9c27b0" stroke-width="1"/>
<rect x="684.5" y="333.5" width="244.0" height="92.0" fill="rgba(156,39,176,0.2)" stroke="#9c27b0" stroke-width="1"/>
<rect x="1076.5" y="350.5" width="27.0" height="33.0" fill="rgba(41,98,255,0.2)" stroke="#2962ff" stroke-width="1"/>
<rect x="1126.5" y="433.5" width="62.0" height="22.0" fill="rgba(41,98,255,0.2)" stroke="#2962ff" stroke-width="1"/>
<polyline points="67,607.8 108.9,257 181.3,532.6 208,450.3 230.4,586.3 330,238.8 368.1,315.8 490,82 524.3,237.5 547,137.9 589.3,217.2 612,163.5 684.3,425.4 698.8,307.9 741.3,438.7 927.7,332.6 1027,514.8" fill="none" stroke="#2962ff" stroke-width="1.1" stroke-opacity="0.75" stroke-linejoin="round"/>
<polyline points="66.9,608 489.95,81.7 1026.9,514.9" fill="none" stroke="#9c27b0" stroke-opacity="0.87" stroke-width="2" stroke-linejoin="round"/>
<polyline points="1026.9,514.9 1065.2,260.5 1205.8,521.7" fill="none" stroke="#2962ff" stroke-width="2" stroke-linejoin="round"/>
<text x="330.9" y="202.2" font-size="18.6" fill="#9c27b0" stroke="#9c27b0" stroke-width="0.45" text-anchor="middle" style="font-family:NanumGothic,'Liberation Sans',sans-serif">1</text>
<text x="769.2" y="237.2" font-size="19.6" fill="#9c27b0" text-anchor="middle">2</text>
<text x="1031.9" y="332.8" font-size="18.6" fill="#2962ff" stroke="#2962ff" stroke-width="0.45" text-anchor="middle" style="font-family:NanumGothic,'Liberation Sans',sans-serif">1</text>
<text x="1138.2" y="331.0" font-size="19.6" fill="#2962ff" text-anchor="middle">2</text>
<line x1="66.9" y1="608.05" x2="92.6" y2="620.7" stroke="#2962ff" stroke-width="1.15" stroke-opacity="0.9"/>
<circle cx="66.9" cy="608.05" r="2.3" fill="#2962ff"/>
<rect x="92.6" y="606.4" width="50.7" height="29.1" rx="4.5" ry="4.5" fill="#ffffff" stroke="#2962ff" stroke-width="1"/>
<text class="lb" x="118.0" y="627.00" text-anchor="middle" textLength="33.2" lengthAdjust="spacingAndGlyphs">1.14</text>
<line x1="490" y1="82" x2="515.5" y2="60.9" stroke="#2962ff" stroke-width="1.15" stroke-opacity="0.9"/>
<circle cx="490" cy="82" r="2.3" fill="#2962ff"/>
<rect x="515.55" y="45.3" width="71" height="29.1" rx="4.5" ry="4.5" fill="#ffffff" stroke="#2962ff" stroke-width="1"/>
<text class="lb" x="550.6" y="65.95" text-anchor="middle" textLength="52.4" lengthAdjust="spacingAndGlyphs">148.13</text>
<line x1="1065.05" y1="258" x2="1070.8" y2="251" stroke="#2962ff" stroke-width="1.15" stroke-opacity="0.9"/>
<circle cx="1065.05" cy="258" r="2.3" fill="#2962ff"/>
<rect x="1041.5" y="221.5" width="60.7" height="29" rx="4.5" ry="4.5" fill="#ffffff" stroke="#2962ff" stroke-width="1"/>
<text class="lb" x="1072.1" y="241.95" text-anchor="middle" textLength="43.6" lengthAdjust="spacingAndGlyphs">29.06</text>
<line x1="1026.9" y1="514.9" x2="1033.5" y2="520" stroke="#2962ff" stroke-width="1.15" stroke-opacity="0.9"/>
<circle cx="1026.9" cy="514.9" r="2.3" fill="#2962ff"/>
<rect x="1033.5" y="506.5" width="51" height="29" rx="4.5" ry="4.5" fill="#ffffff" stroke="#2962ff" stroke-width="1"/>
<text class="lb" x="1058.9" y="527.00" text-anchor="middle" textLength="33.6" lengthAdjust="spacingAndGlyphs">2.70</text>
<text class="lg" x="5.5" y="16.2" textLength="76.1" lengthAdjust="spacingAndGlyphs" text-anchor="start">BB, 1M, NYSE</text>
<text class="lg" x="89.2" y="16.2" textLength="9.3" lengthAdjust="spacingAndGlyphs" text-anchor="start">O</text>
<text class="lv" x="98.6" y="16.2" textLength="23.6" lengthAdjust="spacingAndGlyphs" text-anchor="start">2.79</text>
<text class="lg" x="129.8" y="16.2" textLength="8.8" lengthAdjust="spacingAndGlyphs" text-anchor="start">H</text>
<text class="lv" x="138.8" y="16.2" textLength="24.2" lengthAdjust="spacingAndGlyphs" text-anchor="start">2.85</text>
<text class="lg" x="171" y="16.2" textLength="6.8" lengthAdjust="spacingAndGlyphs" text-anchor="start">L</text>
<text class="lv" x="177.8" y="16.2" textLength="23.9" lengthAdjust="spacingAndGlyphs" text-anchor="start">2.60</text>
<text class="lg" x="209.7" y="16.2" textLength="9.0" lengthAdjust="spacingAndGlyphs" text-anchor="start">C</text>
<text class="lv" x="218.9" y="16.2" textLength="22.7" lengthAdjust="spacingAndGlyphs" text-anchor="start">2.76</text>
<text class="lv" x="249.6" y="16.2" textLength="86.9" lengthAdjust="spacingAndGlyphs" text-anchor="start">−0.02 (−0.72%)</text>
<text class="ax" x="1304.7" y="33.8" textLength="41.0" lengthAdjust="spacingAndGlyphs" text-anchor="start">240.00</text>
<text class="ax" x="1304.3" y="64.9" textLength="41.0" lengthAdjust="spacingAndGlyphs" text-anchor="start">180.00</text>
<text class="ax" x="1304.3" y="100.1" textLength="41.0" lengthAdjust="spacingAndGlyphs" text-anchor="start">130.00</text>
<text class="ax" x="1304.7" y="139.8" textLength="33.4" lengthAdjust="spacingAndGlyphs" text-anchor="start">90.00</text>
<text class="ax" x="1304.7" y="173.3" textLength="33.4" lengthAdjust="spacingAndGlyphs" text-anchor="start">66.00</text>
<text class="ax" x="1304.7" y="203.3" textLength="33.4" lengthAdjust="spacingAndGlyphs" text-anchor="start">50.00</text>
<text class="ax" x="1304.7" y="235.4" textLength="33.4" lengthAdjust="spacingAndGlyphs" text-anchor="start">37.50</text>
<text class="ax" x="1304.7" y="267.9" textLength="33.4" lengthAdjust="spacingAndGlyphs" text-anchor="start">27.50</text>
<text class="ax" x="1304.3" y="305.1" textLength="33.4" lengthAdjust="spacingAndGlyphs" text-anchor="start">19.50</text>
<text class="ax" x="1304.3" y="337.1" textLength="33.4" lengthAdjust="spacingAndGlyphs" text-anchor="start">14.50</text>
<text class="ax" x="1304.3" y="372.0" textLength="33.4" lengthAdjust="spacingAndGlyphs" text-anchor="start">10.50</text>
<text class="ax" x="1304.7" y="409.1" textLength="25.8" lengthAdjust="spacingAndGlyphs" text-anchor="start">7.50</text>
<text class="ax" x="1304.7" y="442.3" textLength="25.8" lengthAdjust="spacingAndGlyphs" text-anchor="start">5.50</text>
<text class="ax" x="1304.7" y="477.4" textLength="25.8" lengthAdjust="spacingAndGlyphs" text-anchor="start">4.00</text>
<text class="ax" x="1304.7" y="508.2" textLength="25.8" lengthAdjust="spacingAndGlyphs" text-anchor="start">3.00</text>
<text class="ax" x="1304.7" y="540.9" textLength="25.8" lengthAdjust="spacingAndGlyphs" text-anchor="start">2.20</text>
<text class="ax" x="1304.3" y="576.1" textLength="25.8" lengthAdjust="spacingAndGlyphs" text-anchor="start">1.60</text>
<text class="ax" x="1304.3" y="607.0" textLength="25.8" lengthAdjust="spacingAndGlyphs" text-anchor="start">1.20</text>
<text class="ax" x="1304.7" y="637.5" textLength="41.0" lengthAdjust="spacingAndGlyphs" text-anchor="start">0.9000</text>
<text class="ax" x="1304.7" y="667.8" textLength="41.0" lengthAdjust="spacingAndGlyphs" text-anchor="start">0.6800</text>
<rect x="1297" y="0" width="65" height="29.7" fill="#181c27"/>
<rect x="1300" y="0.5" width="58" height="25.5" rx="4.5" ry="4.5" fill="#131722" stroke="#3a3e4b" stroke-width="1"/>
<text class="ax" style="fill:#d1d4dc;stroke:#d1d4dc;stroke-width:0.3" x="1309.4" y="17" textLength="25.0" lengthAdjust="spacingAndGlyphs" text-anchor="start">USD</text>
<path d="M1296,504 h60 a2,2 0 0 1 2,2 v13 a2,2 0 0 1 -2,2 h-60 z" fill="#5b9cf6"/>
<text class="ax" style="fill:#131722" x="1304.7" y="516.8" textLength="47.2" lengthAdjust="spacingAndGlyphs" text-anchor="start">17d 13h</text>
<g clip-path="url(#tclip)">
<text class="tx" x="104.8" y="710" textLength="30.8" lengthAdjust="spacingAndGlyphs" text-anchor="middle">2000</text>
<text class="tx" x="196.2" y="710" textLength="30.8" lengthAdjust="spacingAndGlyphs" text-anchor="middle">2002</text>
<text class="tx" x="287.6" y="710" textLength="30.8" lengthAdjust="spacingAndGlyphs" text-anchor="middle">2004</text>
<text class="tx" x="379.0" y="710" textLength="30.8" lengthAdjust="spacingAndGlyphs" text-anchor="middle">2006</text>
<text class="tx" x="470.5" y="710" textLength="30.8" lengthAdjust="spacingAndGlyphs" text-anchor="middle">2008</text>
<text class="tx" x="561.9" y="710" textLength="30.8" lengthAdjust="spacingAndGlyphs" text-anchor="middle">2010</text>
<text class="tx" x="653.3" y="710" textLength="30.8" lengthAdjust="spacingAndGlyphs" text-anchor="middle">2012</text>
<text class="tx" x="744.7" y="710" textLength="30.8" lengthAdjust="spacingAndGlyphs" text-anchor="middle">2014</text>
<text class="tx" x="836.1" y="710" textLength="30.8" lengthAdjust="spacingAndGlyphs" text-anchor="middle">2016</text>
<text class="tx" x="927.5" y="710" textLength="30.8" lengthAdjust="spacingAndGlyphs" text-anchor="middle">2018</text>
<text class="tx" x="1019.0" y="710" textLength="30.8" lengthAdjust="spacingAndGlyphs" text-anchor="middle">2020</text>
<text class="tx" x="1110.4" y="710" textLength="30.8" lengthAdjust="spacingAndGlyphs" text-anchor="middle">2022</text>
<text class="tx" x="1201.8" y="710" textLength="30.8" lengthAdjust="spacingAndGlyphs" text-anchor="middle">2024</text>
<text class="tx" x="1293.2" y="710" textLength="30.8" lengthAdjust="spacingAndGlyphs" text-anchor="middle">2026</text>
</g>
<rect x="1361" y="0" width="1" height="718" fill="url(#edge)"/>
</svg>
</body></html>
